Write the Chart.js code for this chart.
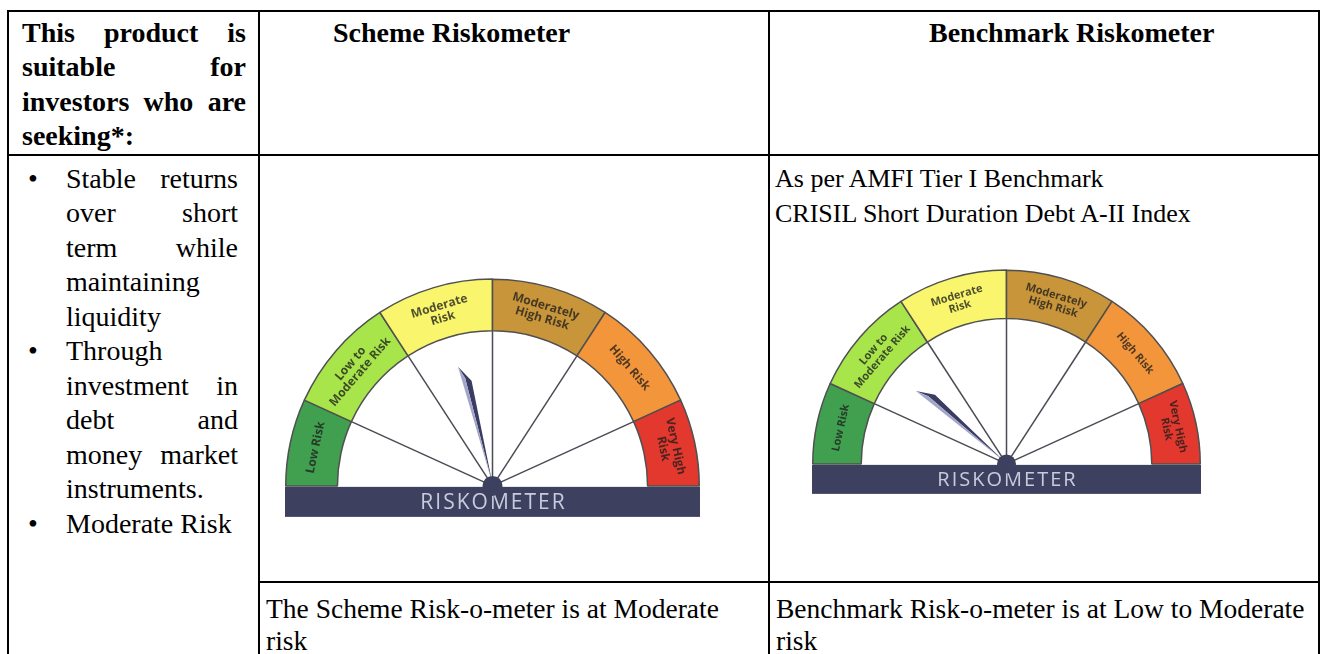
<!DOCTYPE html>
<html>
<head>
<meta charset="utf-8">
<script src="https://cdn.jsdelivr.net/npm/chart.js@4.4.1/dist/chart.umd.min.js"></script>
<style>
  html, body { margin: 0; padding: 0; background: #fff; }
  body { width: 1320px; height: 654px; overflow: hidden; position: relative; color: #000; }
  .rule { position: absolute; background: #000; }
  .ln { position: absolute; white-space: nowrap; font-family: "Liberation Serif", "Times New Roman", serif; }
  canvas { position: absolute; }
</style>
</head>
<body>
<canvas id="scheme"></canvas>
<canvas id="bench"></canvas>
<script>
// riskometer bands, in degrees of the half dial (left to right)
const riskLabels = [['Low Risk'], ['Low to', 'Moderate Risk'], ['Moderate', 'Risk'], ['Moderately', 'High Risk'], ['High Risk'], ['Very High', 'Risk']];
const bandSpans = [24.5, 32.5, 33, 33, 32.5, 24.5];
const bandColors = ['#41a04f', '#a8e54b', '#f9f56c', '#c8953a', '#f3953a', '#e2382d'];
const schemeNeedle = 75;     // Moderate
const benchmarkNeedle = 40;  // Low to Moderate

// table text
const headerLines = ['This product is', 'suitable for', 'investors who are', 'seeking*:'];
const colHeaders = ['Scheme Riskometer', 'Benchmark Riskometer'];
const bulletItems = [
  ['Stable returns', 'over short', 'term while', 'maintaining', 'liquidity'],
  ['Through', 'investment in', 'debt and', 'money market', 'instruments.'],
  ['Moderate Risk'],
];
const benchmarkNote = ['As per AMFI Tier I Benchmark', 'CRISIL Short Duration Debt A-II Index'];
const schemeFooter = ['The Scheme Risk-o-meter is at Moderate', 'risk'];
const benchFooter = ['Benchmark Risk-o-meter is at Low to Moderate', 'risk'];

function rule(x, y, w, h) {
  const d = document.createElement('div');
  d.className = 'rule';
  Object.assign(d.style, { left: x + 'px', top: y + 'px', width: w + 'px', height: h + 'px' });
  document.body.appendChild(d);
}

function placeLine(text, x, baseline, opt) {
  const fs = opt.size;
  const el = document.createElement('div');
  el.className = 'ln';
  el.style.fontSize = fs + 'px';
  el.style.fontWeight = opt.bold ? 'bold' : 'normal';
  el.style.lineHeight = fs + 'px';
  el.style.left = x + 'px';
  el.style.top = (baseline - 0.8375 * fs) + 'px';
  if (opt.justify && text.includes(' ')) {
    el.style.width = opt.width + 'px';
    el.style.display = 'flex';
    el.style.justifyContent = 'space-between';
    text.split(' ').forEach(w => {
      const s = document.createElement('span');
      s.textContent = w;
      el.appendChild(s);
    });
  } else {
    el.textContent = text;
  }
  document.body.appendChild(el);
}

// grid
rule(7, 10, 1313, 2);
rule(7, 154, 1313, 2);
rule(258, 581, 1062, 2);
rule(7, 10, 2, 644);
rule(258, 10, 2, 644);
rule(768, 10, 2, 644);
rule(1318, 10, 2, 644);

// header row
headerLines.forEach((t, i) => placeLine(t, 22, 42 + i * 34.5, { size: 28, bold: true, justify: i < headerLines.length - 1, width: 224 }));
placeLine(colHeaders[0], 333, 42, { size: 28, bold: true });
placeLine(colHeaders[1], 929, 42, { size: 28, bold: true });

// bullets
let row = 0;
bulletItems.forEach(item => {
  placeLine('\u2022', 28, 188 + row * 34.5, { size: 28 });
  item.forEach((t, i) => {
    placeLine(t, 66, 188 + row * 34.5, { size: 28, justify: i < item.length - 1, width: 172 });
    row++;
  });
});

benchmarkNote.forEach((t, i) => placeLine(t, 775, 188 + i * 34.5, { size: 26 }));
schemeFooter.forEach((t, i) => placeLine(t, 266, 618 + i * 32, { size: 27.5 }));
benchFooter.forEach((t, i) => placeLine(t, 776, 618 + i * 32, { size: 27.5 }));

// dial decorations: band captions, spokes, base bar, needle, hub
const gaugeDecor = {
  id: 'gaugeDecor',
  afterDatasetsDraw(chart, args, opts) {
    const ctx = chart.ctx;
    const arcs = chart.getDatasetMeta(0).data;
    const cx = arcs[0].x, cy = arcs[0].y;
    const rIn = arcs[0].innerRadius, rOut = arcs[0].outerRadius;
    const total = bandSpans.reduce((a, b) => a + b, 0);
    const start = arcs[0].startAngle, end = arcs[arcs.length - 1].endAngle;

    // captions
    arcs.forEach((arc, i) => {
      const mid = (arc.startAngle + arc.endAngle) / 2;
      const rm = (rIn + rOut) / 2;
      const lines = riskLabels[i];
      const lh = opts.labelSize * 1.05;
      ctx.save();
      ctx.translate(cx + rm * Math.cos(mid), cy + rm * Math.sin(mid));
      ctx.rotate(mid + Math.PI / 2);
      ctx.font = `700 ${opts.labelSize}px "Open Sans"`;
      ctx.fillStyle = 'rgba(30,30,30,0.78)';
      ctx.textAlign = 'center';
      ctx.textBaseline = 'middle';
      lines.forEach((t, k) => ctx.fillText(t, 0, (k - (lines.length - 1) / 2) * lh));
      ctx.restore();
    });

    // spokes
    ctx.save();
    ctx.strokeStyle = '#4b4b55';
    ctx.lineWidth = 1.5;
    arcs.slice(1).forEach(arc => {
      const a = arc.startAngle;
      ctx.beginPath();
      ctx.moveTo(cx, cy);
      ctx.lineTo(cx + rIn * Math.cos(a), cy + rIn * Math.sin(a));
      ctx.stroke();
    });
    ctx.restore();

    // base bar
    ctx.save();
    ctx.fillStyle = '#3e405f';
    ctx.fillRect(cx - rOut - 0.75, cy + 1, 2 * rOut + 1.5, opts.barH);
    ctx.font = `400 ${opts.barText}px "Open Sans"`;
    ctx.letterSpacing = '2px';
    ctx.fillStyle = '#c9cadc';
    ctx.textAlign = 'center';
    ctx.textBaseline = 'middle';
    ctx.fillText('RISKOMETER', cx + 1, cy + 1 + opts.barH / 2 + 1);
    ctx.restore();

    // needle: a blade, pale face on the left, dark face on the right
    const ang = start + (opts.needle / total) * (end - start);
    const L = rIn * 0.8;
    const ux = Math.cos(ang), uy = Math.sin(ang);
    const vx = -uy, vy = ux;
    const P = (u, v) => [cx + ux * u + vx * v, cy + uy * u + vy * v];
    const A = P(L, -2.5), S = P(L - 13, 1.5), B = P(L - 17, 7), H = P(2, 0.5);
    const poly = pts => {
      ctx.beginPath();
      pts.forEach((p, i) => i ? ctx.lineTo(p[0], p[1]) : ctx.moveTo(p[0], p[1]));
      ctx.closePath();
      ctx.fill();
    };
    ctx.save();
    ctx.fillStyle = '#3a3c62';
    poly([A, B, H, S]);
    ctx.fillStyle = '#a4a6c9';
    poly([A, S, H]);

    // hub
    ctx.fillStyle = '#3e405f';
    ctx.beginPath();
    ctx.arc(cx, cy, opts.hub, 0, Math.PI * 2);
    ctx.fill();
    ctx.restore();
  }
};

function makeGauge(id, cx, cy, R, needle, labelSize, barH, barText, hub) {
  const pad = 4;
  const canvas = document.getElementById(id);
  canvas.width = 2 * R + 1.5 + 2 * pad;
  canvas.height = pad + R + 2 + barH + 8;
  canvas.style.left = (cx - R - 0.75 - pad) + 'px';
  canvas.style.top = (cy - R - 1 - pad) + 'px';
  return new Chart(canvas, {
    type: 'doughnut',
    data: {
      labels: riskLabels.map(l => l.join(' ')),
      datasets: [{
        data: bandSpans,
        backgroundColor: bandColors,
        borderColor: '#505050',
        borderWidth: 1.5,
      }],
    },
    plugins: [gaugeDecor],
    options: {
      responsive: false,
      animation: false,
      devicePixelRatio: 1,
      events: [],
      rotation: -90,
      circumference: 180,
      cutout: '75%',
      layout: { padding: { left: pad, right: pad, top: pad, bottom: barH + 8 } },
      plugins: {
        legend: { display: false },
        tooltip: { enabled: false },
        gaugeDecor: { needle: needle, labelSize: labelSize, barH: barH, barText: barText, hub: hub },
      },
    },
  });
}

makeGauge('scheme', 493, 486, 207, schemeNeedle, 12, 30, 21, 10);
makeGauge('bench', 1007, 464, 194, benchmarkNeedle, 11, 29, 20, 9.5);
</script>
</body>
</html>
